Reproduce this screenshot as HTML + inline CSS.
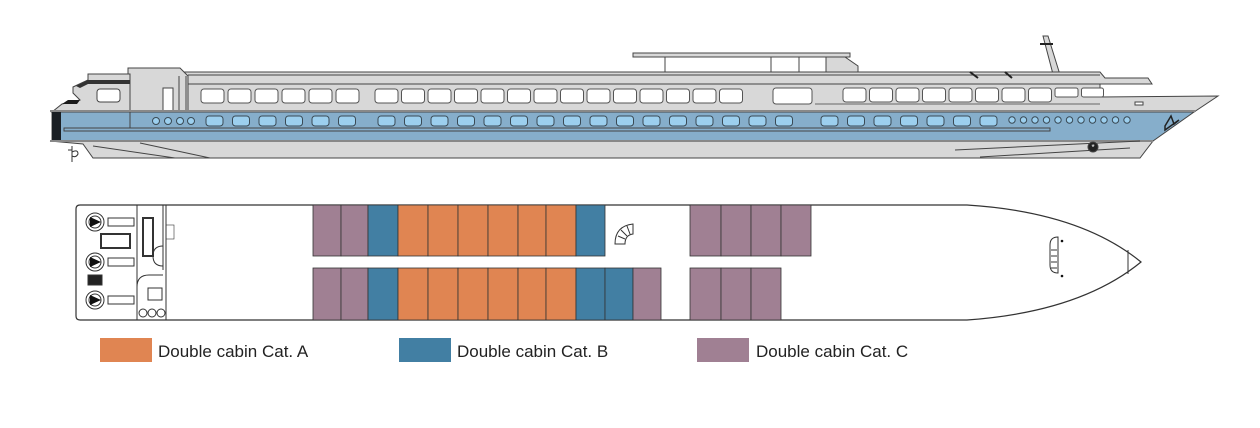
<!DOCTYPE html>
<html><head><meta charset="utf-8"><style>
html,body{margin:0;padding:0;background:#fff;width:1260px;height:428px;overflow:hidden}
svg{display:block}
text{font-family:"Liberation Sans",sans-serif}
</style></head><body>
<svg width="1260" height="428" viewBox="0 0 1260 428" xmlns="http://www.w3.org/2000/svg">
<g stroke="#444" stroke-width="1">
<!-- sun deck roof -->
<rect x="633" y="53" width="217" height="4" fill="#d8d8d8"/>
<line x1="665" y1="57" x2="665" y2="75"/><line x1="771" y1="57" x2="771" y2="75"/><line x1="799" y1="57" x2="799" y2="75"/>
<polygon points="826,57 845,57 858,66 858,74 826,74" fill="#d8d8d8"/>
<!-- mast -->
<polygon points="1043,36 1048,36 1061,78 1054,78" fill="#d8d8d8"/>
<line x1="1040" y1="44" x2="1053" y2="44" stroke="#222" stroke-width="2"/>
<!-- upper superstructure -->
<polygon points="130,72 1100,72 1105,78 1148,78 1152,84 1100,84 1100,97 1218,96 1194,112 130,112" fill="#d8d8d8"/>
<line x1="188" y1="75" x2="1100" y2="75"/>
<line x1="188" y1="84" x2="1100" y2="84"/>
<line x1="970" y1="72" x2="978" y2="78" stroke="#222" stroke-width="2"/>
<line x1="1005" y1="72" x2="1012" y2="78" stroke="#222" stroke-width="2"/>
<line x1="815" y1="104" x2="1100" y2="104" stroke="#666"/>
<!-- rear deckhouse -->
<polygon points="128,68 180,68 188,76 188,112 128,112" fill="#d8d8d8"/>
<polygon points="88,74 130,74 130,112 52,112 62,104 80,100 73,93 73,87 88,80" fill="#d8d8d8"/>
<polygon points="62,104 68,100 80,100 77,104" fill="#1a1a1a" stroke="none"/>
<polygon points="76,86 88,80 130,80 130,84 88,84 80,88" fill="#333" stroke="none"/>
<rect x="97" y="89" width="23" height="13" rx="3" fill="#fff"/>
<rect x="163" y="88" width="10" height="24" fill="#fff"/>
<line x1="179" y1="76" x2="179" y2="125"/><line x1="186" y1="76" x2="186" y2="125"/>
<!-- blue band -->
<polygon points="52,112 1194,112 1153,141 52,141" fill="#86aecb"/>
<rect x="52" y="112" width="9" height="29" fill="#1a1f24" stroke="none"/>
<line x1="130" y1="112" x2="130" y2="128"/>
<rect x="64" y="128" width="986" height="3" fill="#86aecb"/>
<line x1="50" y1="111" x2="1195" y2="111" stroke="#888" stroke-width="2"/>
<!-- hull -->
<polygon points="50,141 1153,141 1140,158 93,158 83,144" fill="#d8d8d8"/>
<line x1="50" y1="141" x2="1153" y2="141" stroke="#888" stroke-width="2"/>
<line x1="93" y1="146" x2="175" y2="158"/><line x1="140" y1="143" x2="210" y2="158"/>
<line x1="955" y1="150" x2="1140" y2="141"/><line x1="980" y1="157" x2="1130" y2="148"/>
<circle cx="1093" cy="147" r="5" fill="#222"/>
<text x="1093" y="150" font-size="8" fill="#fff" text-anchor="middle" stroke="none">*</text>
<rect x="1135" y="102" width="8" height="3" fill="#fff"/>
<path d="M1165,126 l6,-10 l3,8 l5,-4 l-14,10z" fill="none" stroke="#222" stroke-width="1.5"/>
<path d="M68,150 l4,0 l0,-4 l0,16 M72,152 q6,-3 6,2 q-2,4 -6,2" fill="none" stroke="#333"/>
</g>
<!-- upper windows -->
<g fill="#fff" stroke="#555" stroke-width="1">
<rect x="201" y="89" width="23" height="14" rx="3"/><rect x="228" y="89" width="23" height="14" rx="3"/><rect x="255" y="89" width="23" height="14" rx="3"/><rect x="282" y="89" width="23" height="14" rx="3"/><rect x="309" y="89" width="23" height="14" rx="3"/><rect x="336" y="89" width="23" height="14" rx="3"/>
<rect x="375" y="89" width="23" height="14" rx="3"/><rect x="401.5" y="89" width="23" height="14" rx="3"/><rect x="428" y="89" width="23" height="14" rx="3"/><rect x="454.5" y="89" width="23" height="14" rx="3"/><rect x="481" y="89" width="23" height="14" rx="3"/><rect x="507.5" y="89" width="23" height="14" rx="3"/><rect x="534" y="89" width="23" height="14" rx="3"/><rect x="560.5" y="89" width="23" height="14" rx="3"/><rect x="587" y="89" width="23" height="14" rx="3"/><rect x="613.5" y="89" width="23" height="14" rx="3"/><rect x="640" y="89" width="23" height="14" rx="3"/><rect x="666.5" y="89" width="23" height="14" rx="3"/><rect x="693" y="89" width="23" height="14" rx="3"/><rect x="719.5" y="89" width="23" height="14" rx="3"/>
<rect x="773" y="88" width="39" height="16" rx="3"/>
<rect x="843" y="88" width="23" height="14" rx="3"/><rect x="869.5" y="88" width="23" height="14" rx="3"/><rect x="896" y="88" width="23" height="14" rx="3"/><rect x="922.5" y="88" width="23" height="14" rx="3"/><rect x="949" y="88" width="23" height="14" rx="3"/><rect x="975.5" y="88" width="23" height="14" rx="3"/><rect x="1002" y="88" width="23" height="14" rx="3"/><rect x="1028.5" y="88" width="23" height="14" rx="3"/><rect x="1055" y="88" width="23" height="9" rx="2"/><rect x="1081.5" y="88" width="22" height="9" rx="2"/>
</g>
<!-- blue windows -->
<g fill="#9ccfee" stroke="#3a4a55" stroke-width="1">
<circle cx="156" cy="121" r="3.5"/><circle cx="168" cy="121" r="3.5"/><circle cx="180" cy="121" r="3.5"/><circle cx="191" cy="121" r="3.5"/>
<rect x="206" y="116" width="17" height="10" rx="3"/><rect x="232.5" y="116" width="17" height="10" rx="3"/><rect x="259" y="116" width="17" height="10" rx="3"/><rect x="285.5" y="116" width="17" height="10" rx="3"/><rect x="312" y="116" width="17" height="10" rx="3"/><rect x="338.5" y="116" width="17" height="10" rx="3"/>
<rect x="378" y="116" width="17" height="10" rx="3"/><rect x="404.5" y="116" width="17" height="10" rx="3"/><rect x="431" y="116" width="17" height="10" rx="3"/><rect x="457.5" y="116" width="17" height="10" rx="3"/><rect x="484" y="116" width="17" height="10" rx="3"/><rect x="510.5" y="116" width="17" height="10" rx="3"/><rect x="537" y="116" width="17" height="10" rx="3"/><rect x="563.5" y="116" width="17" height="10" rx="3"/><rect x="590" y="116" width="17" height="10" rx="3"/><rect x="616.5" y="116" width="17" height="10" rx="3"/><rect x="643" y="116" width="17" height="10" rx="3"/><rect x="669.5" y="116" width="17" height="10" rx="3"/><rect x="696" y="116" width="17" height="10" rx="3"/><rect x="722.5" y="116" width="17" height="10" rx="3"/><rect x="749" y="116" width="17" height="10" rx="3"/><rect x="775.5" y="116" width="17" height="10" rx="3"/>
<rect x="821" y="116" width="17" height="10" rx="3"/><rect x="847.5" y="116" width="17" height="10" rx="3"/><rect x="874" y="116" width="17" height="10" rx="3"/><rect x="900.5" y="116" width="17" height="10" rx="3"/><rect x="927" y="116" width="17" height="10" rx="3"/><rect x="953.5" y="116" width="17" height="10" rx="3"/><rect x="980" y="116" width="17" height="10" rx="3"/>
<circle cx="1012" cy="120" r="3.2"/><circle cx="1023.5" cy="120" r="3.2"/><circle cx="1035" cy="120" r="3.2"/><circle cx="1046.5" cy="120" r="3.2"/><circle cx="1058" cy="120" r="3.2"/><circle cx="1069.5" cy="120" r="3.2"/><circle cx="1081" cy="120" r="3.2"/><circle cx="1092.5" cy="120" r="3.2"/><circle cx="1104" cy="120" r="3.2"/><circle cx="1115.5" cy="120" r="3.2"/><circle cx="1127" cy="120" r="3.2"/>
</g>

<!-- DECK PLAN -->
<path d="M80,205 L967,205 Q1080,212 1141,262 Q1080,312 967,320 L80,320 Q76,320 76,316 L76,209 Q76,205 80,205 Z" fill="#fff" stroke="#333" stroke-width="1.2"/>
<line x1="1128" y1="250" x2="1128" y2="274" stroke="#333"/>
<g stroke="#333" stroke-width="1" fill="none">
<line x1="137" y1="205" x2="137" y2="320"/><line x1="166" y1="205" x2="166" y2="320"/>
<line x1="163" y1="205" x2="163" y2="270"/>
<rect x="143" y="218" width="10" height="38" stroke-width="2"/>
<rect x="101" y="234" width="29" height="14" stroke-width="2"/>
<rect x="88" y="275" width="14" height="10" fill="#222"/>
<rect x="148" y="288" width="14" height="12"/>
<circle cx="143" cy="313" r="4"/><circle cx="152" cy="313" r="4"/><circle cx="161" cy="313" r="4"/>
<path d="M137,287 q0,-12 12,-12 l14,0 M163,246 q-10,0 -10,10 q0,10 10,10"/>
<rect x="166" y="225" width="8" height="14" stroke-width="0.6"/>
<circle cx="95" cy="222" r="9"/><circle cx="95" cy="222" r="6"/>
<circle cx="95" cy="262" r="9"/><circle cx="95" cy="262" r="6"/>
<circle cx="95" cy="300" r="9"/><circle cx="95" cy="300" r="6"/>
<rect x="108" y="218" width="26" height="8"/><rect x="108" y="258" width="26" height="8"/><rect x="108" y="296" width="26" height="8"/>
</g>
<g fill="#111"><polygon points="90,217 101,222 90,227"/><polygon points="90,257 101,262 90,267"/><polygon points="90,295 101,300 90,305"/></g>
<!-- cabins -->
<g stroke="#333" stroke-width="0.8">
<rect x="313" y="205" width="28" height="51" fill="#a08093"/><rect x="341" y="205" width="27" height="51" fill="#a08093"/>
<rect x="368" y="205" width="30" height="51" fill="#427fa3"/>
<rect x="398" y="205" width="30" height="51" fill="#e08552"/><rect x="428" y="205" width="30" height="51" fill="#e08552"/><rect x="458" y="205" width="30" height="51" fill="#e08552"/><rect x="488" y="205" width="30" height="51" fill="#e08552"/><rect x="518" y="205" width="28" height="51" fill="#e08552"/><rect x="546" y="205" width="30" height="51" fill="#e08552"/>
<rect x="576" y="205" width="29" height="51" fill="#427fa3"/>
<rect x="313" y="268" width="28" height="52" fill="#a08093"/><rect x="341" y="268" width="27" height="52" fill="#a08093"/>
<rect x="368" y="268" width="30" height="52" fill="#427fa3"/>
<rect x="398" y="268" width="30" height="52" fill="#e08552"/><rect x="428" y="268" width="30" height="52" fill="#e08552"/><rect x="458" y="268" width="30" height="52" fill="#e08552"/><rect x="488" y="268" width="30" height="52" fill="#e08552"/><rect x="518" y="268" width="28" height="52" fill="#e08552"/><rect x="546" y="268" width="30" height="52" fill="#e08552"/>
<rect x="576" y="268" width="29" height="52" fill="#427fa3"/><rect x="605" y="268" width="28" height="52" fill="#427fa3"/>
<rect x="633" y="268" width="28" height="52" fill="#a08093"/>
<rect x="690" y="205" width="31" height="51" fill="#a08093"/><rect x="721" y="205" width="30" height="51" fill="#a08093"/><rect x="751" y="205" width="30" height="51" fill="#a08093"/><rect x="781" y="205" width="30" height="51" fill="#a08093"/>
<rect x="690" y="268" width="31" height="52" fill="#a08093"/><rect x="721" y="268" width="30" height="52" fill="#a08093"/><rect x="751" y="268" width="30" height="52" fill="#a08093"/>
</g>
<!-- spiral stairs -->
<path d="M615,244 q0,-18 18,-20 l0,10 q-8,1 -8,10 z" fill="#fff" stroke="#333" stroke-width="1"/>
<path d="M618,236 l7,3 M621,230 l6,6 M627,226 l3,8" stroke="#333"/>
<path d="M1050,245 q0,-8 8,-8 l0,36 q-8,0 -8,-8 z" fill="#fff" stroke="#333"/>
<path d="M1051,250 l6,0 M1051,256 l6,0 M1051,262 l6,0 M1051,268 l6,0" stroke="#333"/>
<circle cx="1062" cy="241" r="1.3" fill="#111"/><circle cx="1062" cy="276" r="1.3" fill="#111"/>
<!-- legend -->
<rect x="100" y="338" width="52" height="24" fill="#e08552"/>
<text x="158" y="357" font-size="17" fill="#222">Double cabin Cat. A</text>
<rect x="399" y="338" width="52" height="24" fill="#427fa3"/>
<text x="457" y="357" font-size="17" fill="#222">Double cabin Cat. B</text>
<rect x="697" y="338" width="52" height="24" fill="#a08093"/>
<text x="756" y="357" font-size="17" fill="#222">Double cabin Cat. C</text>
</svg>
</body></html>
